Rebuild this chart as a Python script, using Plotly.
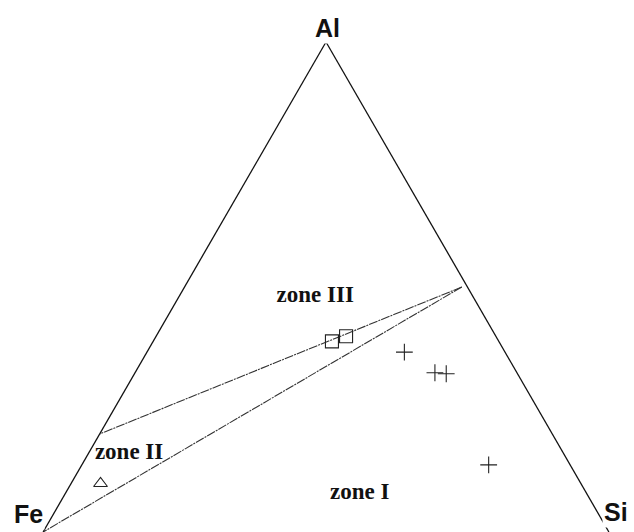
import plotly.graph_objects as go

# Corner components of the Al-Fe-Si diagram
corner_labels = ["Al", "Fe", "Si"]

# Zone boundaries, as (Al, Fe, Si) fractions
boundary_upper_al = [0.50, 0.20]
boundary_upper_fe = [0.01, 0.80]
boundary_upper_si = [0.49, 0.00]

boundary_lower_al = [0.50, 0.00]
boundary_lower_fe = [0.01, 1.00]
boundary_lower_si = [0.49, 0.00]

# Samples
square_al = [0.389, 0.400]
square_fe = [0.295, 0.265]
square_si = [0.316, 0.336]

cross_al = [0.367, 0.325, 0.323, 0.137]
cross_fe = [0.178, 0.145, 0.126, 0.144]
cross_si = [0.455, 0.530, 0.551, 0.719]

triangle_al = [0.099]
triangle_fe = [0.849]
triangle_si = [0.052]

# Zone names and where they sit in the diagram
zone_names = ["zone III", "zone II", "zone I"]
zone_al = [0.482, 0.160, 0.079]
zone_fe = [0.278, 0.768, 0.401]
zone_si = [0.240, 0.072, 0.520]

line_dash = "9px,1px,2px,1px"
line_color = "#333333"

fig = go.Figure()

fig.add_trace(go.Scatterternary(
    a=boundary_upper_al, b=boundary_upper_fe, c=boundary_upper_si,
    mode="lines", line=dict(color=line_color, width=1.1, dash=line_dash),
    hoverinfo="skip", showlegend=False))
fig.add_trace(go.Scatterternary(
    a=boundary_lower_al, b=boundary_lower_fe, c=boundary_lower_si,
    mode="lines", line=dict(color=line_color, width=1.1, dash=line_dash),
    hoverinfo="skip", showlegend=False))

fig.add_trace(go.Scatterternary(
    a=square_al, b=square_fe, c=square_si, mode="markers",
    marker=dict(symbol="square-open", size=13, color="#222",
                line=dict(width=1.1, color="#222")),
    showlegend=False))
fig.add_trace(go.Scatterternary(
    a=cross_al, b=cross_fe, c=cross_si, mode="markers",
    marker=dict(symbol="cross-thin", size=12, color="#222",
                line=dict(width=1.1, color="#222")),
    showlegend=False))
fig.add_trace(go.Scatterternary(
    a=triangle_al, b=triangle_fe, c=triangle_si, mode="markers",
    marker=dict(symbol="triangle-up-open", size=12, color="#222",
                line=dict(width=1.1, color="#222")),
    showlegend=False))

fig.add_trace(go.Scatterternary(
    a=zone_al, b=zone_fe, c=zone_si, mode="text", text=zone_names,
    textfont=dict(family="Liberation Serif", size=23, color="#111",
                  weight="bold"),
    hoverinfo="skip", showlegend=False))

axis_style = dict(showticklabels=False, ticks="", showgrid=False,
                  linecolor="#111", linewidth=1.3, title=dict(text=""))

fig.update_layout(
    width=634, height=532,
    margin=dict(l=18, r=0, t=42, b=0),
    paper_bgcolor="white",
    ternary=dict(
        sum=1,
        bgcolor="white",
        domain=dict(x=[0, 1], y=[0, 1]),
        aaxis=dict(axis_style),
        baxis=dict(axis_style, showline=False),
        caxis=dict(axis_style),
    ),
)

# Corner labels drawn over the triangle edges
corner_pos = [(0.502, 1.028, 25), (0.017, 0.036, 25), (0.971, 0.040, 25)]
for label, (px, py, fs) in zip(corner_labels, corner_pos):
    fig.add_annotation(
        text=label, x=px, y=py, xref="paper", yref="paper",
        xanchor="center", yanchor="middle", showarrow=False,
        font=dict(family="Liberation Sans", size=fs, color="#111",
                  weight="bold"),
        bgcolor="white", borderpad=1)

fig.write_html("out.html")
